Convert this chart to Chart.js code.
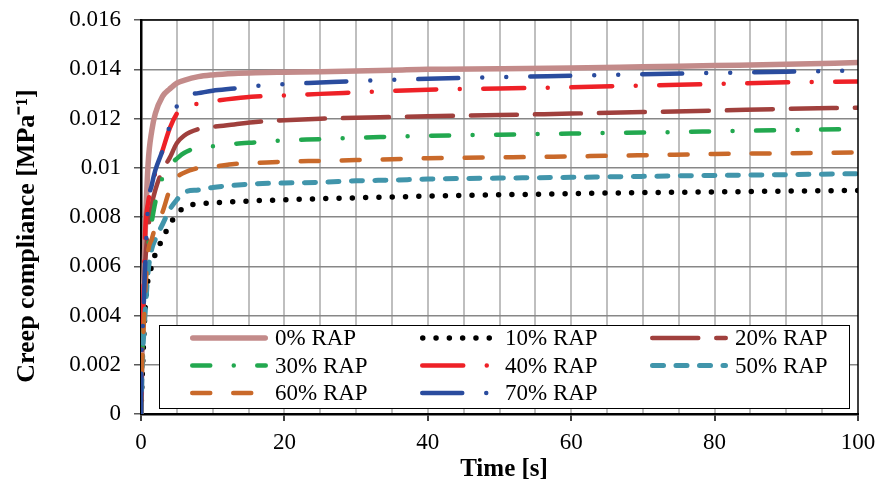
<!DOCTYPE html>
<html lang="en">
<head>
    <meta charset="UTF-8">
    <title>Creep compliance vs time</title>
    <script src="https://cdn.jsdelivr.net/npm/chart.js"></script>
    <style>
        body { margin: 0; background: #fff; }
        canvas { display: block; }
    </style>
</head>
<body>
    <canvas id="creepChart" width="875" height="492"></canvas>

    <script>
        // time points [s] shared by every series
        var times = [0, 0.1, 0.3, 0.6, 1, 1.5, 2, 3, 4, 5, 6, 8, 10, 13, 16, 20, 25, 30, 35, 40, 50, 60, 70, 80, 90, 100];

        // creep compliance [MPa^-1]
        var rap0  = [0, 0.002, 0.0045, 0.0075, 0.0102, 0.0115, 0.0122, 0.0129, 0.0132, 0.01344, 0.01355, 0.0137, 0.01377, 0.01383, 0.01386, 0.01388, 0.0139, 0.01393, 0.01396, 0.014, 0.01402, 0.01405, 0.0141, 0.01415, 0.0142, 0.01427];
        var rap10 = [0, 0.001, 0.0025, 0.0044, 0.0055, 0.006, 0.0065, 0.0071, 0.0077, 0.0081, 0.0084, 0.00853, 0.00857, 0.00862, 0.00866, 0.0087, 0.00874, 0.00878, 0.00881, 0.00885, 0.0089, 0.00895, 0.00899, 0.00902, 0.00905, 0.00908];
        var rap20 = [0, 0.0018, 0.004, 0.0062, 0.0075, 0.0085, 0.0091, 0.0099, 0.0104, 0.011, 0.0113, 0.01157, 0.01166, 0.01176, 0.01186, 0.01193, 0.01199, 0.01203, 0.01206, 0.01209, 0.01214, 0.0122, 0.01226, 0.01232, 0.01239, 0.01244];
        var rap30 = [0, 0.0017, 0.0035, 0.0055, 0.0068, 0.0078, 0.0086, 0.0096, 0.0101, 0.01037, 0.0106, 0.01082, 0.01087, 0.01097, 0.01103, 0.01111, 0.01116, 0.01122, 0.01126, 0.0113, 0.01134, 0.01139, 0.01143, 0.01148, 0.01153, 0.01158];
        var rap40 = [0, 0.002, 0.0045, 0.0075, 0.0086, 0.0092, 0.0098, 0.0107, 0.0116, 0.0122, 0.0125, 0.0126, 0.0127, 0.01281, 0.01289, 0.01293, 0.013, 0.01306, 0.01312, 0.01317, 0.01322, 0.01327, 0.01334, 0.0134, 0.01347, 0.0135];
        var rap50 = [0, 0.0012, 0.0028, 0.0042, 0.0058, 0.0067, 0.0071, 0.0077, 0.0083, 0.0087, 0.009, 0.0091, 0.0092, 0.00929, 0.00935, 0.00938, 0.00941, 0.00947, 0.0095, 0.00954, 0.00958, 0.00961, 0.00965, 0.00969, 0.00972, 0.00976];
        var rap60 = [0, 0.0015, 0.003, 0.005, 0.0066, 0.0071, 0.0076, 0.0082, 0.0091, 0.0096, 0.0098, 0.00999, 0.01004, 0.01015, 0.01019, 0.01025, 0.01028, 0.01031, 0.01035, 0.01039, 0.01042, 0.01046, 0.01051, 0.01056, 0.01059, 0.01062];
        var rap70 = [0, 0.0025, 0.0038, 0.0062, 0.0085, 0.0093, 0.0099, 0.0107, 0.0117, 0.0125, 0.0129, 0.01303, 0.01313, 0.01322, 0.01332, 0.0134, 0.01346, 0.01352, 0.01357, 0.01361, 0.01368, 0.01374, 0.0138, 0.01385, 0.0139, 0.01395];

        var seriesLabels = ["0% RAP", "10% RAP", "20% RAP", "30% RAP", "40% RAP", "50% RAP", "60% RAP", "70% RAP"];
        var seriesValues = [rap0, rap10, rap20, rap30, rap40, rap50, rap60, rap70];

        // line styles (Excel-like dash types)
        var styles = [
            { color: "#C38B8A", width: 5.5, dash: [] },
            { color: "#000000", width: 5.5, dash: [0, 13.3] },
            { color: "#A0403D", width: 4.5, dash: [46, 18] },
            { color: "#22A84F", width: 4.5, dash: [18, 23.5, 0, 23.5] },
            { color: "#EE2127", width: 4.5, dash: [41, 23.5, 0, 23.5] },
            { color: "#4195AB", width: 5,   dash: [11, 12.5] },
            { color: "#C9692A", width: 4.5, dash: [18, 23] },
            { color: "#2A4C9E", width: 4.5, dash: [40, 24, 0, 24, 0, 24] }
        ];

        var serif = "'Liberation Serif', 'Times New Roman', serif";
        var clear = "rgba(0,0,0,0)";

        var datasets = seriesValues.map(function (vals, i) {
            return {
                label: seriesLabels[i],
                data: vals.map(function (v, k) { return { x: times[k], y: v }; }),
                borderColor: styles[i].color,
                borderWidth: styles[i].width,
                borderDash: styles[i].dash,
                borderCapStyle: "round",
                borderJoinStyle: "round",
                pointRadius: 0,
                fill: false,
                cubicInterpolationMode: "monotone",
                order: seriesValues.length - i
            };
        });

        // frame, legend box and axis titles
        var extras = {
            id: "extras",
            afterDraw: function (chart) {
                var ctx = chart.ctx, a = chart.chartArea;
                ctx.save();

                // top / right frame of the plot area
                ctx.strokeStyle = "#000";
                ctx.lineWidth = 1.5;
                ctx.beginPath();
                ctx.moveTo(a.left, a.top);
                ctx.lineTo(a.right, a.top);
                ctx.lineTo(a.right, a.bottom);
                ctx.stroke();

                // legend box inside the plot
                var bx = a.left + 18, by = a.top + 305, bw = 690, bh = 83;
                ctx.fillStyle = "#fff";
                ctx.fillRect(bx, by, bw, bh);
                ctx.lineWidth = 1;
                ctx.strokeRect(bx + 0.5, by + 0.5, bw, bh);

                ctx.font = "23px " + serif;
                ctx.textBaseline = "middle";
                ctx.textAlign = "left";
                for (var i = 0; i < seriesLabels.length; i++) {
                    var col = i % 3, row = Math.floor(i / 3);
                    var x0 = bx + 31 + col * 230;
                    var y0 = by + 13 + row * 27.5;
                    var s = styles[i];
                    ctx.strokeStyle = s.color;
                    ctx.lineWidth = s.width;
                    ctx.lineCap = "round";
                    ctx.setLineDash(s.dash);
                    ctx.beginPath();
                    ctx.moveTo(x0 + s.width / 2, y0);
                    ctx.lineTo(x0 + 78 - s.width / 2, y0);
                    ctx.stroke();
                    ctx.setLineDash([]);
                    ctx.fillStyle = "#000";
                    ctx.fillText(seriesLabels[i], x0 + 85, y0 + 1);
                }

                // axis titles
                ctx.fillStyle = "#000";
                ctx.textAlign = "center";
                ctx.font = "bold 25px " + serif;
                ctx.fillText("Time [s]", 504, 470);

                ctx.translate(27, 236);
                ctx.rotate(-Math.PI / 2);
                ctx.font = "bold 26px " + serif;
                ctx.fillText("Creep compliance [MPa\u207B\u00B9]", 0, 0);
                ctx.restore();
            }
        };

        var ctx = document.getElementById("creepChart").getContext("2d");
        var chart = new Chart(ctx, {
            type: "line",
            data: { datasets: datasets },
            plugins: [extras],
            options: {
                responsive: false,
                animation: false,
                devicePixelRatio: 1,
                layout: { padding: { top: 20, right: 17, left: 0, bottom: 0 } },
                plugins: {
                    legend: { display: false },
                    title: { display: false },
                    tooltip: { enabled: false }
                },
                scales: {
                    x: {
                        type: "linear",
                        min: 0,
                        max: 100,
                        border: { color: "#000", width: 2.5 },
                        grid: {
                            color: function (c) { return (c.tick.value === 0 || c.tick.value === 100) ? clear : "#BFBFBF"; },
                            lineWidth: 2,
                            tickLength: 7,
                            tickWidth: 1.5,
                            tickColor: function (c) { return c.tick.value % 20 === 0 ? "#000" : clear; }
                        },
                        ticks: {
                            stepSize: 5,
                            autoSkip: false,
                            maxRotation: 0,
                            padding: 8,
                            color: "#000",
                            font: { family: serif, size: 23 },
                            callback: function (v) { return v % 20 === 0 ? v : ""; }
                        },
                        afterFit: function (s) {
                            s.height = 78;
                            s.paddingLeft = 0;
                            s.paddingRight = 0;
                        }
                    },
                    y: {
                        min: 0,
                        max: 0.016,
                        border: { color: "#000", width: 2.5 },
                        grid: {
                            color: function (c) { return c.tick.value === 0 ? clear : "#878787"; },
                            lineWidth: 1.5,
                            tickLength: 7,
                            tickWidth: 1.5,
                            tickColor: "#595959"
                        },
                        ticks: {
                            stepSize: 0.002,
                            padding: 13,
                            color: "#000",
                            font: { family: serif, size: 23 },
                            callback: function (v) { return String(+v.toFixed(3)); }
                        },
                        afterFit: function (s) {
                            s.width = 141;
                            s.paddingTop = 0;
                            s.paddingBottom = 0;
                        }
                    }
                }
            }
        });
    </script>
</body>
</html>
